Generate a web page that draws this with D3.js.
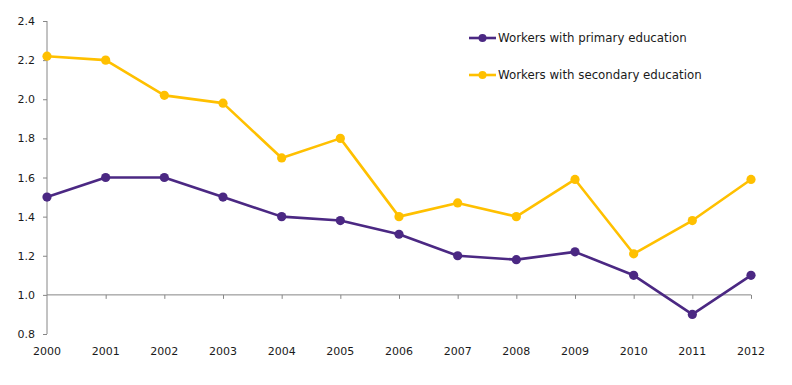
<!DOCTYPE html>
<html><head><meta charset="utf-8">
<script src="https://cdn.jsdelivr.net/npm/d3@7"></script>
<style>body{margin:0;background:#fff}svg{display:block}text{font-family:"DejaVu Sans",Verdana,sans-serif;fill:#1a1a1a}</style>
</head><body><svg id="c" width="792" height="385"></svg>
<script>
const years = ["2000","2001","2002","2003","2004","2005","2006","2007","2008","2009","2010","2011","2012"];
const primary = [1.5,1.6,1.6,1.5,1.4,1.38,1.31,1.2,1.18,1.22,1.1,0.9,1.1];
const secondary = [2.22,2.2,2.02,1.98,1.7,1.8,1.4,1.47,1.4,1.59,1.21,1.38,1.59];
const yTicks = [0.8,1.0,1.2,1.4,1.6,1.8,2.0,2.2,2.4];
const seriesNames = ["Workers with primary education","Workers with secondary education"];
const colors = ["#4B2883","#FFC000"];

const svg = d3.select("#c");
const x = d3.scalePoint().domain(years).range([47,751]);
const y = d3.scaleLinear().domain([0.8,2.4]).range([334,21]);
const axisCol = "#868686";

// y axis
const ya = svg.append("g").attr("transform","translate(47,0)")
  .call(d3.axisLeft(y).tickValues(yTicks).tickFormat(d3.format(".1f")).tickSize(4).tickPadding(8));
ya.select(".domain").attr("stroke",axisCol).attr("d","M0,21V334");
ya.selectAll(".tick line").attr("stroke",axisCol);
ya.selectAll("text").attr("font-size","11px").style("font-family","'DejaVu Sans',sans-serif").attr("fill","#1a1a1a");

// x axis at 1.0
const xa = svg.append("g").attr("transform",`translate(0,${y(1.0)})`)
  .call(d3.axisBottom(x).tickSize(4).tickFormat(""));
xa.select(".domain").attr("stroke",axisCol).attr("d",`M47,0H751`);
xa.selectAll(".tick line").attr("stroke",axisCol).filter(d=>d==="2000").remove();

// year labels at bottom
svg.append("g").selectAll("text").data(years).join("text")
  .attr("x",d=>x(d)).attr("y",355).attr("text-anchor","middle")
  .attr("font-size","11px").text(d=>d);

const line = d3.line().x((d,i)=>x(years[i])).y(d=>y(d));
[secondary, primary].forEach((s,k)=>{
  const c = k===0?colors[1]:colors[0];
  svg.append("path").datum(s).attr("d",line).attr("fill","none").attr("stroke",c).attr("stroke-width",2.6).attr("stroke-linejoin","round");
  svg.append("g").selectAll("circle").data(s).join("circle")
    .attr("cx",(d,i)=>x(years[i])).attr("cy",d=>y(d)).attr("r",4.6).attr("fill",c);
});

// legend
const lg = svg.append("g");
[0,1].forEach(i=>{
  const ly = i===0?38:75;
  lg.append("line").attr("x1",469).attr("x2",496).attr("y1",ly).attr("y2",ly).attr("stroke",colors[i]).attr("stroke-width",2.6);
  lg.append("circle").attr("cx",482.5).attr("cy",ly).attr("r",4).attr("fill",colors[i]);
  lg.append("text").attr("x",498).attr("y",ly+4).attr("font-size","11.8px").text(seriesNames[i]);
});
</script></body></html>
